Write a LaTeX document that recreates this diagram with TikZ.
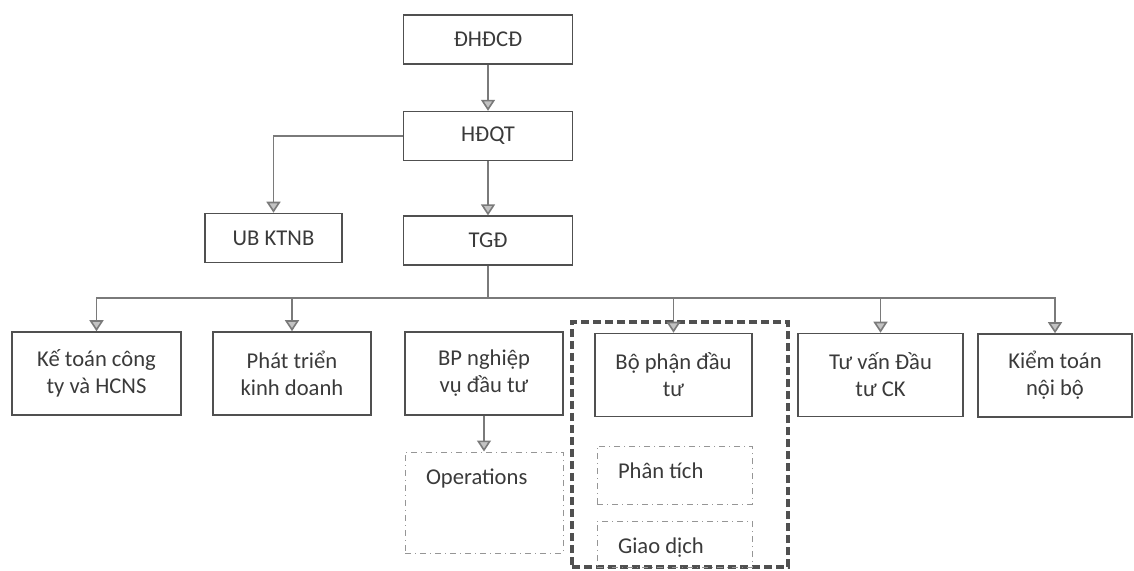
\documentclass[tikz,border=0pt]{standalone}
\usepackage{fontspec}
\setmainfont{Carlito}
\usetikzlibrary{arrows.meta, positioning}
\definecolor{boxline}{HTML}{505050}
\definecolor{linkline}{HTML}{7A7A7A}
\definecolor{txt}{HTML}{3A3A3A}

\begin{document}
\begin{tikzpicture}[
        x=0.5pt, y=-0.5pt,
        every node/.style={font=\fontsize{11.3}{13.5}\selectfont, text=txt},
        unit/.style={rectangle, draw=boxline, line width=0.8pt, align=center, minimum height=41.5pt},
        topunit/.style={unit, minimum width=84.5pt, minimum height=24.5pt},
        subunit/.style={rectangle, draw=boxline!60, line width=0.5pt, dash dot, align=flush left, inner xsep=10.5pt, inner ysep=0pt, text height=16pt},
        group/.style={rectangle, draw=boxline, line width=1.6pt, dash pattern=on 4pt off 2pt},
        link/.style={draw=linkline, line width=0.8pt},
        arrow/.style={link, -{Triangle[width=7pt, length=5.5pt, fill=linkline!45]}}
    ]
        \useasboundingbox (0,0) rectangle (1134,571);

        \node[topunit] (dhdcd) at (488,39.5) {ĐHĐCĐ};
        \node[topunit, below=23pt of dhdcd] (hdqt) {HĐQT};
        \node[topunit, below=27pt of hdqt] (tgd) {TGĐ};
        \node[topunit, minimum width=68.5pt] (ubktnb) at (273.5,238) {UB KTNB};

        \node[unit, minimum width=84.5pt] (ketoan) at (96.5,373.5) {Kế toán công\\ty và HCNS};
        \node[unit, minimum width=79pt] (phattrien) at (292,373.5) {Phát triển\\kinh doanh};
        \node[unit, minimum width=79pt] (bpnv) at (484,373.5) {BP nghiệp\\vụ đầu tư};
        \node[group, minimum width=108pt, minimum height=122.5pt] (invgroup) at (680,444.5) {};
        \node[unit, minimum width=78.5pt] (dautu) at (673.5,375) {Bộ phận đầu\\tư};
        \node[unit, minimum width=82.5pt] (tuvan) at (880.5,375) {Tư vấn Đầu\\tư CK};
        \node[unit, minimum width=77pt] (kiemtoan) at (1055,375.5) {Kiểm toán\\nội bộ};

        \node[subunit, text width=58pt, text depth=34.5pt] (ops) at (484,502.5) {Operations};
        \node[subunit, text width=56.5pt, text depth=13pt] (phantich) at (674.5,475) {Phân tích};
        \node[subunit, text width=56.5pt, text depth=7pt] (giaodich) at (674.5,544) {Giao dịch};

        \coordinate (bus) at (488,298);

        \draw[arrow] (dhdcd) -- (hdqt);
        \draw[arrow] (hdqt) -- (tgd);
        \draw[arrow] (hdqt) -| (ubktnb);
        \draw[link] (tgd) -- (bus);
        \draw[arrow] (bus) -| (ketoan);
        \draw[arrow] (bus) -| (phattrien);
        \draw[arrow] (bus) -| (dautu);
        \draw[arrow] (bus) -| (tuvan);
        \draw[arrow] (bus) -| (kiemtoan);
        \draw[arrow] (bpnv) -- (ops);
    \end{tikzpicture}
\end{document}
